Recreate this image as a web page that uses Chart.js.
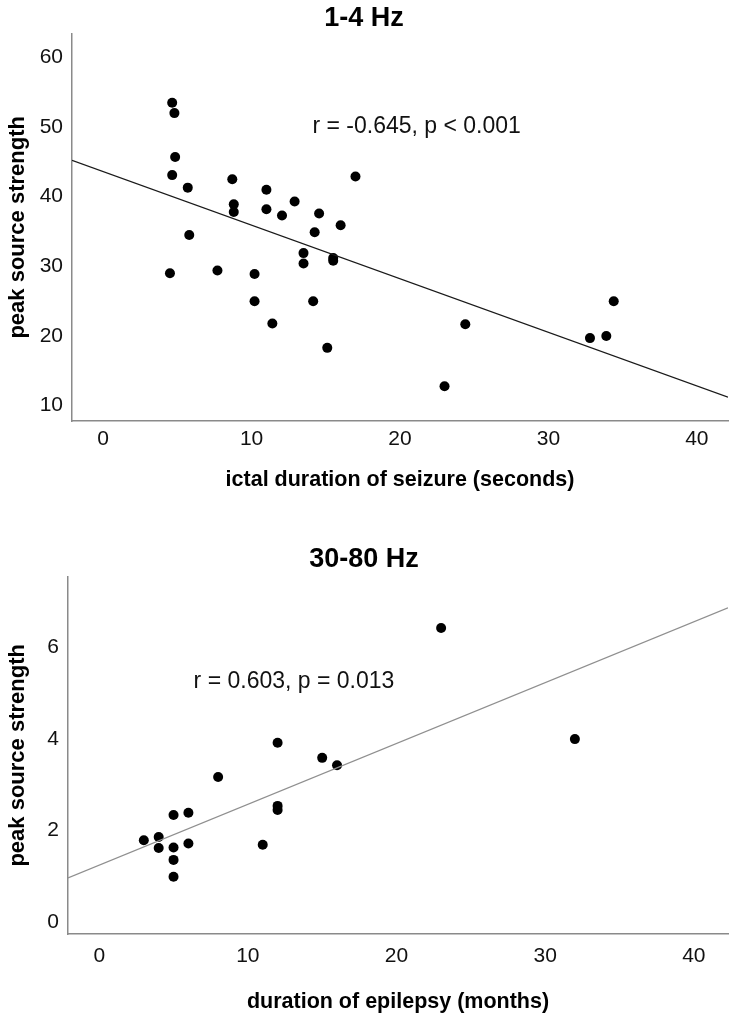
<!DOCTYPE html>
<html>
<head>
<meta charset="utf-8">
<title>peak source strength</title>
<script src="https://cdn.jsdelivr.net/npm/chart.js@4.4.1/dist/chart.umd.min.js"></script>
<style>
  body { margin: 0; background: #fff; }
  .box { position: relative; width: 739px; }
  #box1 { height: 510px; }
  #box2 { height: 515px; }
</style>
</head>
<body>
<div class="box" id="box1"><canvas id="chart1"></canvas></div>
<div class="box" id="box2"><canvas id="chart2"></canvas></div>
<script>
// 1-4 Hz: ictal duration of seizure (seconds) vs peak source strength
const ictalSeconds = [4.65, 4.8, 4.85, 4.65, 5.7, 5.8, 8.7, 8.8, 8.8, 11.0, 11.0, 12.05, 12.9, 14.55, 14.25, 16.0, 17.0,
    13.5, 13.5, 15.5, 15.5, 4.5, 7.7, 10.2, 10.2, 14.15, 11.4, 15.1, 24.4, 23.0, 32.8, 33.9, 34.4];
const ictalStrength = [53.5, 52.0, 45.7, 43.1, 41.3, 34.5, 42.5, 38.9, 37.8, 41.0, 38.2, 37.3, 39.3, 37.6, 34.9, 35.9, 42.9,
    31.9, 30.4, 31.2, 30.8, 29.0, 29.4, 28.9, 25.0, 25.0, 21.8, 18.3, 21.7, 12.8, 19.7, 20.0, 25.0];
const ictalTicksX = [0, 10, 20, 30, 40];
const ictalTicksY = [10, 20, 30, 40, 50, 60];
const ictalFit = { intercept: 43.6, slope: -0.769 };
const ictalStat = "r = -0.645, p < 0.001";

// 30-80 Hz: duration of epilepsy (months) vs peak source strength
const epilepsyMonths = [12, 15, 16, 8, 23, 32, 12, 12, 5, 6, 3, 4, 4, 5, 6, 5, 5, 11];
const gammaStrength = [3.92, 3.59, 3.43, 3.17, 6.43, 4.0, 2.54, 2.45, 2.34, 2.39, 1.79, 1.86, 1.62, 1.63, 1.72, 1.36, 0.99, 1.69];
const gammaTicksX = [0, 10, 20, 30, 40];
const gammaTicksY = [0, 2, 4, 6];
const gammaFit = { intercept: 1.245, slope: 0.133 };
const gammaStat = "r = 0.603, p = 0.013";

const FONT = "'Liberation Sans', Arial, sans-serif";
const AXIS_GREY = "#8a8a8a";

// writes the r / p text at a data position
const statPlugin = {
    id: "statText",
    afterDraw(chart, args, opts) {
        const c = chart.ctx;
        const px = chart.scales.x.getPixelForValue(opts.at[0]);
        const py = chart.scales.y.getPixelForValue(opts.at[1]);
        c.save();
        c.font = "23px " + FONT;
        c.fillStyle = "#111";
        c.textAlign = "left";
        c.textBaseline = "middle";
        c.fillText(opts.text, px, py);
        c.restore();
    }
};

function makeChart(id, s) {
    const points = s.xs.map((x, i) => ({ x: x, y: s.ys[i] }));
    const fitLine = [s.xRange[0], s.xRange[1]].map(x => ({ x: x, y: s.fit.intercept + s.fit.slope * x }));

    return new Chart(document.getElementById(id), {
        type: "scatter",
        data: {
            datasets: [
                {
                    data: fitLine,
                    showLine: true,
                    borderColor: s.lineColor,
                    borderWidth: 1.3,
                    pointRadius: 0
                },
                {
                    data: points,
                    backgroundColor: "#000",
                    borderWidth: 0,
                    pointRadius: 5
                }
            ]
        },
        options: {
            responsive: true,
            maintainAspectRatio: false,
            animation: false,
            layout: { padding: { left: 0, right: 11, top: 0, bottom: 0 } },
            plugins: {
                legend: { display: false },
                tooltip: { enabled: false },
                title: {
                    display: true,
                    text: s.title,
                    color: "#000",
                    font: { family: FONT, size: 27, weight: "bold", lineHeight: 1.1 },
                    padding: s.titlePad
                },
                statText: { text: s.stat, at: s.statAt }
            },
            scales: {
                x: {
                    type: "linear",
                    min: s.xRange[0],
                    max: s.xRange[1],
                    grid: { display: false, drawTicks: false },
                    border: { display: true, color: AXIS_GREY, width: 1.5 },
                    afterBuildTicks: sc => { sc.ticks = s.ticksX.map(v => ({ value: v })); },
                    afterFit: sc => { sc.height = s.xAxisHeight; },
                    ticks: { padding: s.xTickPad, color: "#111", font: { family: FONT, size: 21 }, maxRotation: 0 },
                    title: {
                        display: true,
                        text: s.xTitle,
                        color: "#000",
                        font: { family: FONT, size: 21.5, weight: "bold" },
                        padding: { top: 0, bottom: s.xTitlePad }
                    }
                },
                y: {
                    type: "linear",
                    min: s.yRange[0],
                    max: s.yRange[1],
                    grid: { display: false, drawTicks: false },
                    border: { display: true, color: AXIS_GREY, width: 1.5 },
                    afterBuildTicks: sc => { sc.ticks = s.ticksY.map(v => ({ value: v })); },
                    afterFit: sc => { sc.width = s.yAxisWidth; },
                    ticks: { padding: 9, color: "#111", font: { family: FONT, size: 21 } },
                    title: {
                        display: true,
                        text: "peak source strength",
                        color: "#000",
                        font: { family: FONT, size: 22, weight: "bold" },
                        padding: { top: 5, bottom: 0 }
                    }
                }
            }
        },
        plugins: [statPlugin]
    });
}

makeChart("chart1", {
    title: "1-4 Hz",
    titlePad: { top: 4, bottom: 0 },
    xs: ictalSeconds,
    ys: ictalStrength,
    xRange: [-2.1, 42.1],
    yRange: [7.8, 63.4],
    ticksX: ictalTicksX,
    ticksY: ictalTicksY,
    fit: ictalFit,
    lineColor: "#1a1a1a",
    stat: ictalStat,
    statAt: [14.1, 50],
    xTitle: "ictal duration of seizure (seconds)",
    xAxisHeight: 89,
    xTickPad: 6,
    xTitlePad: 17,
    yAxisWidth: 72
});

makeChart("chart2", {
    title: "30-80 Hz",
    titlePad: { top: 35, bottom: 2 },
    xs: epilepsyMonths,
    ys: gammaStrength,
    xRange: [-2.1, 42.3],
    yRange: [-0.26, 7.55],
    ticksX: gammaTicksX,
    ticksY: gammaTicksY,
    fit: gammaFit,
    lineColor: "#8f8f8f",
    stat: gammaStat,
    statAt: [6.35, 5.25],
    xTitle: "duration of epilepsy (months)",
    xAxisHeight: 91,
    xTickPad: 10,
    xTitlePad: 10,
    yAxisWidth: 68
});
</script>
</body>
</html>
